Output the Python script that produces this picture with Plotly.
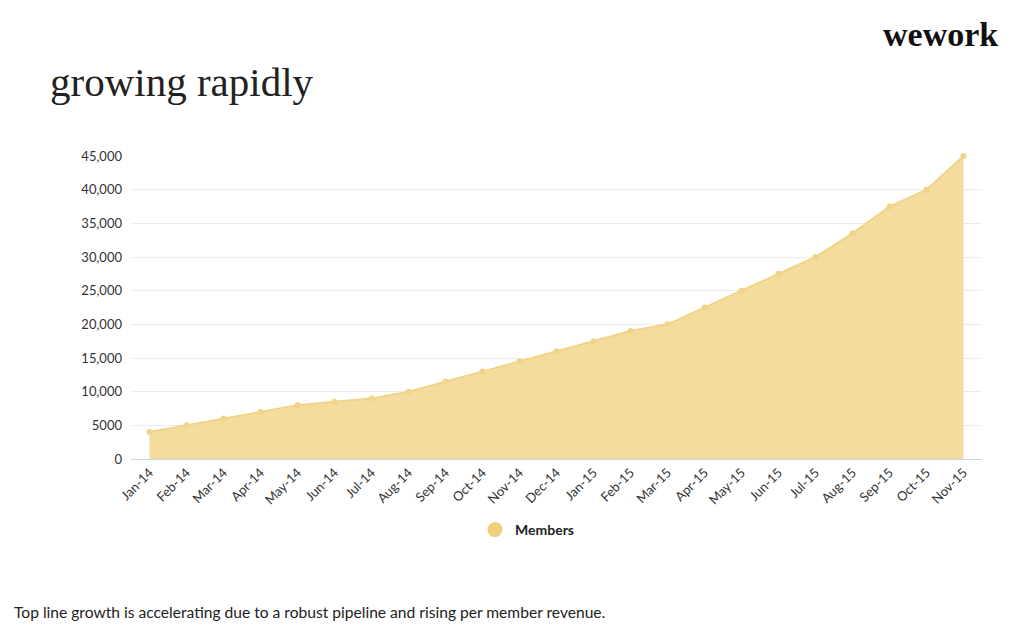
import plotly.graph_objects as go

months = ["Jan-14", "Feb-14", "Mar-14", "Apr-14", "May-14", "Jun-14", "Jul-14", "Aug-14",
          "Sep-14", "Oct-14", "Nov-14", "Dec-14", "Jan-15", "Feb-15", "Mar-15", "Apr-15",
          "May-15", "Jun-15", "Jul-15", "Aug-15", "Sep-15", "Oct-15", "Nov-15"]
members = [4000, 5000, 6000, 7000, 8000, 8500, 9000, 10000, 11500, 13000, 14500, 16000,
           17500, 19000, 20000, 22500, 25000, 27500, 30000, 33500, 37500, 40000, 45000]
y_ticks = [0, 5000, 10000, 15000, 20000, 25000, 30000, 35000, 40000, 45000]
y_tick_labels = ["0", "5000", "10,000", "15,000", "20,000", "25,000", "30,000", "35,000", "40,000", "45,000"]
series_name = "Members"

fill_color = "rgba(243,220,158,1)"
line_color = "rgb(240,212,135)"
legend_color = "rgb(240,208,125)"

fig = go.Figure()
fig.add_trace(go.Scatter(
    x=months, y=members, mode="lines+markers", fill="tozeroy",
    fillcolor=fill_color, line=dict(color=line_color, width=2),
    marker=dict(color=line_color, size=6), showlegend=False, cliponaxis=False,
))
fig.add_trace(go.Scatter(
    x=[None], y=[None], mode="markers", name=series_name,
    marker=dict(color=legend_color, size=15), showlegend=True,
))

font_sans = "Lato, 'Open Sans', sans-serif"

# page body has an 8px margin: work in screen coordinates, offset by 8
OFF = 8
W, H = 1024 - OFF, 639 - OFF
PL, PR, PT, PB = 131, 982, 156, 459  # plot area in screen pixels
L, R, T, B = PL - OFF, W - (PR - OFF), PT - OFF, H - (PB - OFF)
PW, PH = W - L - R, H - T - B


def px(xs):
    return (xs - PL) / PW


def py(ys):
    return (PB - ys) / PH


fig.update_layout(
    width=W, height=H,
    paper_bgcolor="white", plot_bgcolor="white",
    margin=dict(l=L, r=R, t=T, b=B, autoexpand=False),
    font=dict(family=font_sans, color="#333333", size=12),
    xaxis=dict(
        type="category", range=[-0.5, 22.5], tickangle=-45, automargin=False,
        showgrid=False, showline=True, linecolor="#ccd6eb", linewidth=1,
        ticks="", tickfont=dict(size=13, color="#333333"), fixedrange=True,
    ),
    yaxis=dict(
        range=[0, 45000], tickvals=y_ticks, ticktext=y_tick_labels, automargin=False,
        showgrid=True, gridcolor="#ececec", gridwidth=1, zeroline=False,
        showline=False, ticks="", ticklabelstandoff=8,
        tickfont=dict(size=13, color="#333333"),
    ),
    legend=dict(
        orientation="h", x=px(475), xanchor="left", y=py(530), yanchor="middle",
        font=dict(size=14, color="#222222", family="Lato, sans-serif", weight="bold"),
        itemwidth=30, tracegroupgap=0,
    ),
)

fig.add_annotation(text="growing rapidly", xref="paper", yref="paper",
                   x=px(48), y=py(82), xanchor="left", yanchor="middle",
                   showarrow=False,
                   font=dict(family="'Liberation Serif', 'DejaVu Serif', serif", size=41, color="#222222"))
fig.add_annotation(text="wework", xref="paper", yref="paper",
                   x=px(1000), y=py(35), xanchor="right", yanchor="middle",
                   showarrow=False,
                   font=dict(family="'Liberation Serif', serif", size=34, color="#111111", weight="bold"))
fig.add_annotation(text="Top line growth is accelerating due to a robust pipeline and rising per member revenue.",
                   xref="paper", yref="paper",
                   x=px(12), y=py(612), xanchor="left", yanchor="middle",
                   showarrow=False,
                   font=dict(family=font_sans, size=15.6, color="#222222"))

fig.write_html("out.html")
